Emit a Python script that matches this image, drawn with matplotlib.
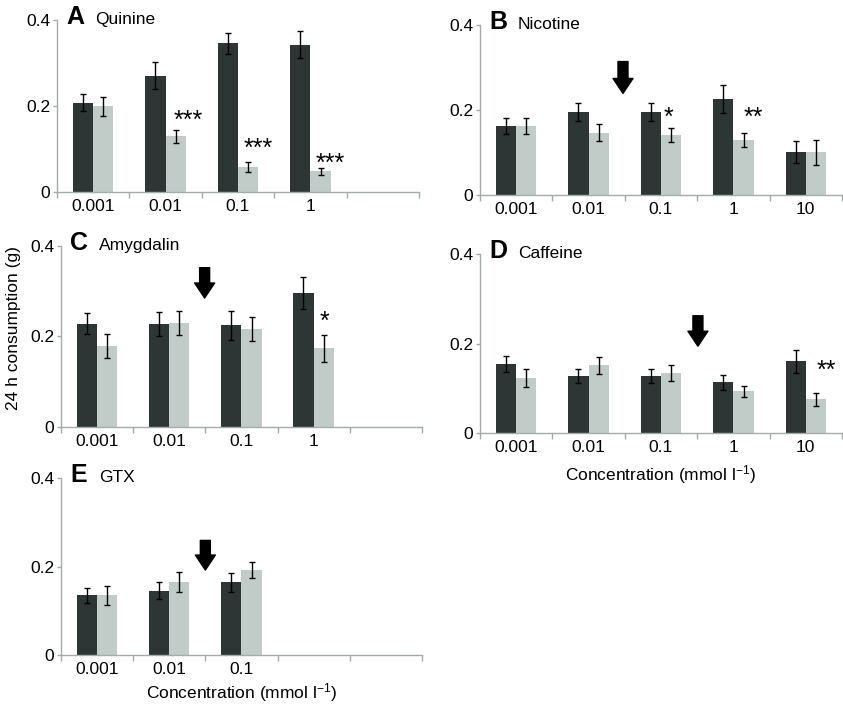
import numpy as np
import matplotlib
matplotlib.use("Agg")
import matplotlib.pyplot as plt

plt.rcParams["font.family"] = ["Liberation Sans", "DejaVu Sans"]
plt.rcParams["mathtext.fontset"] = "custom"
plt.rcParams["mathtext.rm"] = "Liberation Sans"
plt.rcParams["mathtext.it"] = "Liberation Sans:italic"

# data (g consumed in 24 h)
conc = ["0.001", "0.01", "0.1", "1", "10"]

quinine_dark = [0.208, 0.271, 0.346, 0.343]
quinine_dark_err = [0.020, 0.032, 0.025, 0.032]
quinine_light = [0.200, 0.130, 0.058, 0.048]
quinine_light_err = [0.022, 0.015, 0.012, 0.009]

nicotine_dark = [0.162, 0.195, 0.195, 0.226, 0.101]
nicotine_dark_err = [0.018, 0.022, 0.021, 0.032, 0.025]
nicotine_light = [0.162, 0.146, 0.141, 0.129, 0.100]
nicotine_light_err = [0.019, 0.020, 0.017, 0.016, 0.030]

amygdalin_dark = [0.228, 0.227, 0.225, 0.296]
amygdalin_dark_err = [0.023, 0.027, 0.032, 0.035]
amygdalin_light = [0.179, 0.230, 0.217, 0.174]
amygdalin_light_err = [0.026, 0.027, 0.027, 0.030]

caffeine_dark = [0.154, 0.128, 0.127, 0.113, 0.160]
caffeine_dark_err = [0.018, 0.016, 0.015, 0.017, 0.026]
caffeine_light = [0.122, 0.151, 0.134, 0.093, 0.075]
caffeine_light_err = [0.020, 0.019, 0.017, 0.013, 0.015]

gtx_dark = [0.135, 0.145, 0.164]
gtx_dark_err = [0.017, 0.019, 0.021]
gtx_light = [0.135, 0.165, 0.192]
gtx_light_err = [0.021, 0.022, 0.019]

# significance marks: (x, y centre, text)
quinine_stars = [(1.31, 0.182, "***"), (2.28, 0.117, "***"), (3.27, 0.084, "***")]
nicotine_stars = [(2.11, 0.200, "*"), (3.27, 0.200, "**")]
amygdalin_stars = [(3.15, 0.248, "*")]
caffeine_stars = [(4.29, 0.156, "**")]
gtx_stars = []

# arrows: (x, top, tip)
nicotine_arrow = (1.475, 0.314, 0.239)
amygdalin_arrow = (1.49, 0.352, 0.285)
caffeine_arrow = (2.51, 0.262, 0.194)
gtx_arrow = (1.50, 0.259, 0.192)

DARK = "#2e3535"
LIGHT = "#c1ccc9"
SPINE = "#a3abab"
STAR_SIZE = 18

fig = plt.figure(figsize=(8.43, 7.06), dpi=100)

# letter, name, rect, data..., stars, arrow, xlabel pad (None = no label)
panels = [
    ("A", "Quinine", [0.0676, 0.728, 0.4294, 0.2436], quinine_dark, quinine_dark_err,
     quinine_light, quinine_light_err, quinine_stars, None, None),
    ("B", "Nicotine", [0.5694, 0.7238, 0.4294, 0.2408], nicotine_dark, nicotine_dark_err,
     nicotine_light, nicotine_light_err, nicotine_stars, nicotine_arrow, None),
    ("C", "Amygdalin", [0.0724, 0.3952, 0.428, 0.2564], amygdalin_dark, amygdalin_dark_err,
     amygdalin_light, amygdalin_light_err, amygdalin_stars, amygdalin_arrow, None),
    ("D", "Caffeine", [0.5694, 0.3867, 0.4294, 0.2535], caffeine_dark, caffeine_dark_err,
     caffeine_light, caffeine_light_err, caffeine_stars, caffeine_arrow, 6),
    ("E", "GTX", [0.0724, 0.0722, 0.428, 0.2507], gtx_dark, gtx_dark_err,
     gtx_light, gtx_light_err, gtx_stars, gtx_arrow, 3),
]

w = 0.28
for letter, name, rect, dk, dke, lt, lte, stars, arrow, xpad in panels:
    ax = fig.add_axes(rect)
    n = len(dk)
    x = np.arange(n)
    ax.bar(x - w / 2, dk, w, color=DARK, linewidth=0)
    ax.bar(x + w / 2, lt, w, color=LIGHT, linewidth=0)
    ax.errorbar(x - w / 2, dk, yerr=dke, fmt="none", ecolor="black", elinewidth=1, capsize=2, capthick=1)
    ax.errorbar(x + w / 2, lt, yerr=lte, fmt="none", ecolor="black", elinewidth=1, capsize=2, capthick=1)

    ax.set_xlim(-0.5, 4.5)
    ax.set_ylim(0, 0.4)
    ax.set_yticks([0, 0.2, 0.4])
    ax.set_yticklabels(["0", "0.2", "0.4"])
    # category labels, tick marks between categories
    ax.set_xticks(np.arange(5), minor=True)
    ax.set_xticklabels(conc[:n] + [""] * (5 - n), minor=True)
    ax.set_xticks(np.arange(-0.5, 5, 1))
    ax.set_xticklabels([])
    ax.tick_params(axis="x", which="minor", length=0, labelsize=12.5, pad=5)
    ax.tick_params(axis="x", which="major", length=4, color=SPINE, width=1)
    ax.tick_params(axis="y", length=3, color=SPINE, width=1, labelsize=12.5, pad=2)
    for s in ["top", "right"]:
        ax.spines[s].set_visible(False)
    for s in ["left", "bottom"]:
        ax.spines[s].set_color(SPINE)
        ax.spines[s].set_linewidth(1)

    ax.text(0.025, 0.975, letter, transform=ax.transAxes, fontsize=18, fontweight="bold",
            va="baseline", ha="left")
    ax.text(0.105, 0.975, name, transform=ax.transAxes, fontsize=12.5, va="baseline", ha="left")

    for sx, sy, st in stars:
        # asterisks sit high in the em box, shift baseline so the glyph centre lands on sy
        ax.annotate(st, xy=(sx, sy), xytext=(0, -0.58 * STAR_SIZE), textcoords="offset points",
                    ha="center", va="baseline", fontsize=STAR_SIZE)

    if arrow is not None:
        ax_x, top, tip = arrow
        ax.annotate("", xy=(ax_x, tip), xytext=(ax_x, top),
                    arrowprops=dict(arrowstyle="simple,head_width=1.44,head_length=1.08,tail_width=0.72",
                                    color="black", shrinkA=0, shrinkB=0, mutation_scale=10))

    if xpad is not None:
        ax.set_xlabel("Concentration (mmol l$^{-1}$)", fontsize=12.5, labelpad=xpad)

fig.text(0.016, 0.535, "24 h consumption (g)", rotation=90, fontsize=12.5, va="center", ha="center")

fig.savefig("out.png", dpi=100)
